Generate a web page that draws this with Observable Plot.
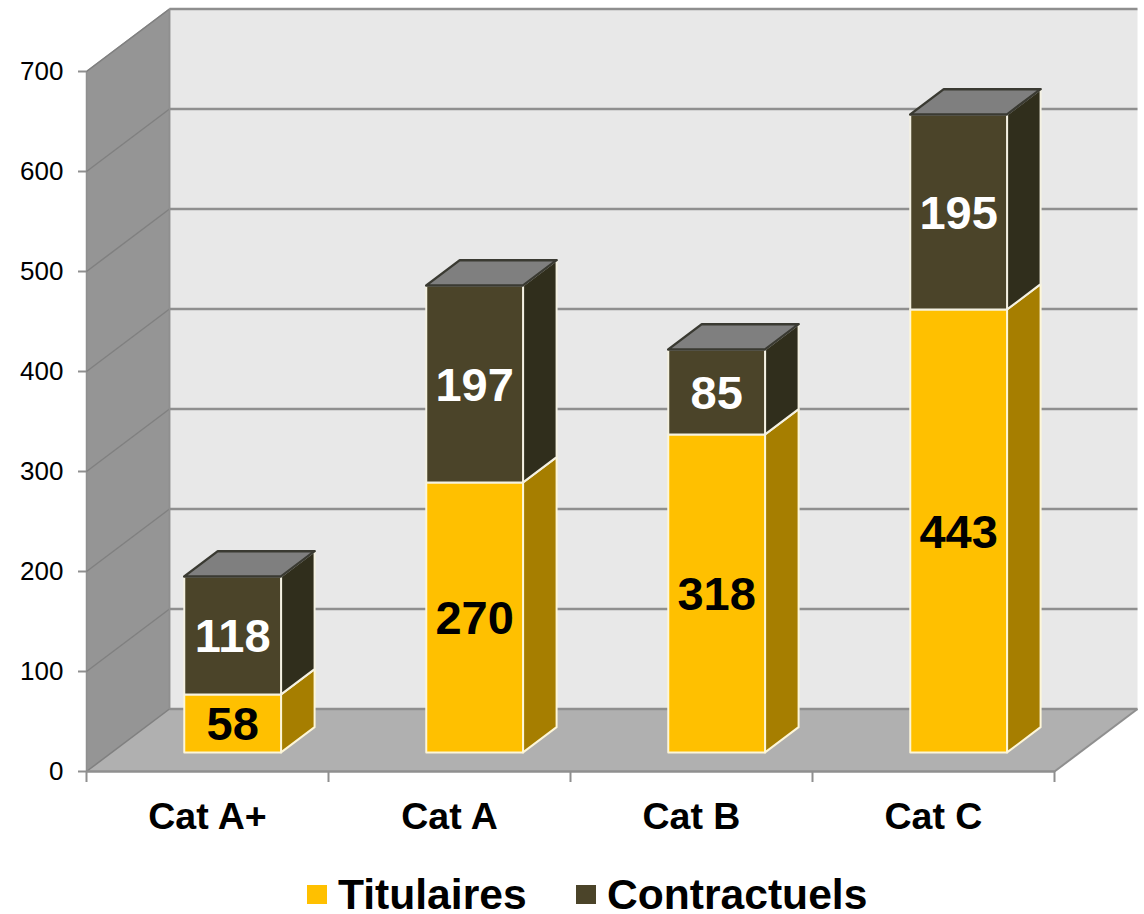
<!DOCTYPE html>
<html>
<head>
<meta charset="utf-8">
<script src="https://cdn.jsdelivr.net/npm/d3@7"></script>
<script src="https://cdn.jsdelivr.net/npm/@observablehq/plot@0.6"></script>
<style>
html,body{margin:0;padding:0;background:#fff;overflow:hidden}
#legend{height:54px;position:relative;font:bold 42.6px "Liberation Sans",Arial,sans-serif;color:#000}
#legend span{position:absolute;white-space:nowrap;line-height:40px}
#legend i{position:absolute;width:20px;height:19px;top:25px}
</style>
</head>
<body>
<div id="chart"></div>
<div id="legend"></div>
<script>
const categories = ["Cat A+", "Cat A", "Cat B", "Cat C"];
const titulaires = [58, 270, 318, 443];
const contractuels = [118, 197, 85, 195];
const yTicks = [0, 100, 200, 300, 400, 500, 600, 700];
const seriesNames = ["Titulaires", "Contractuels"];

// Oblique depth of the 3D box, in scale units (band index, value)
const depthX = 83 / 242, depthY = 62.5;
const barStart = 0.299, barWidth = 0.4, frontDepth = 0.306, backDepth = 0.71;
const P = (u, v, d) => ({x: u + d * depthX, y: v + d * depthY});

const colors = {
  wall: "#e8e8e8", leftWall: "#959595", floor: "#b0b0b0", grid: "#8f8f8f", leftGrid: "#808080",
  tit: "#ffc000", titSide: "#a67e00", con: "#4b4429", conSide: "#302e1c", topFace: "#7f7f7f"
};
const n = categories.length, yMax = yTicks[yTicks.length - 1];

const poly = (faces, options) => Plot.line(
  faces.flatMap((pts, id) => pts.map(p => ({...p, id}))),
  {x: "x", y: "y", z: "id", curve: "linear-closed", strokeLinejoin: "round", ...options}
);

// Stacked segments
const segs = categories.map((c, i) => {
  const u0 = i + barStart, u1 = u0 + barWidth;
  return {c, u0, u1, t: titulaires[i], s: titulaires[i] + contractuels[i]};
});
const frontFace = (a, b) => s => [P(s.u0, a(s), frontDepth), P(s.u1, a(s), frontDepth), P(s.u1, b(s), frontDepth), P(s.u0, b(s), frontDepth)];
const sideFace = (a, b) => s => [P(s.u1, a(s), frontDepth), P(s.u1, a(s), backDepth), P(s.u1, b(s), backDepth), P(s.u1, b(s), frontDepth)];
const capFace = s => [P(s.u0, s.s, frontDepth), P(s.u1, s.s, frontDepth), P(s.u1, s.s, backDepth), P(s.u0, s.s, backDepth)];
const zero = () => 0, tv = s => s.t, sv = s => s.s;

const labelDatum = (vals, base) => vals.map((v, i) => ({
  label: v,
  x: i + barStart + barWidth / 2 + frontDepth * depthX,
  y: base[i] + v / 2 + frontDepth * depthY
}));

const plotEl = Plot.plot({
  width: 1144, height: 860,
  marginLeft: 86, marginRight: 90, marginTop: 71, marginBottom: 89,
  style: {background: "#fff", fontFamily: '"Liberation Sans", Arial, sans-serif', overflow: "visible"},
  x: {type: "linear", domain: [0, n], range: [86, 1054], axis: null},
  y: {type: "linear", domain: [0, yMax], range: [771, 71], axis: null},
  marks: [
    // walls and floor
    poly([[P(0, 0, 1), P(n, 0, 1), P(n, yMax, 1), P(0, yMax, 1)]], {fill: colors.wall}),
    poly([[P(0, 0, 0), P(0, 0, 1), P(0, yMax, 1), P(0, yMax, 0)]], {fill: colors.leftWall, stroke: colors.grid, strokeWidth: 1.5}),
    poly([[P(0, 0, 0), P(n, 0, 0), P(n, 0, 1), P(0, 0, 1)]], {fill: colors.floor}),
    // gridlines on back wall and left wall
    Plot.link(yTicks, {x1: () => P(0, 0, 1).x, x2: () => P(n, 0, 1).x, y1: d => d + depthY, y2: d => d + depthY, stroke: colors.grid, strokeWidth: 2.5}),
    Plot.link(yTicks, {x1: () => 0, x2: () => P(0, 0, 1).x, y1: d => d, y2: d => d + depthY, stroke: colors.leftGrid, strokeWidth: 1.5}),
    // back wall left edge and floor front/right edges
    Plot.link([0], {x1: () => P(0, 0, 1).x, x2: () => P(0, 0, 1).x, y1: () => depthY, y2: () => yMax + depthY, stroke: colors.grid, strokeWidth: 1.5}),
    Plot.link([0], {x1: () => 0, x2: () => n, y1: () => 0, y2: () => 0, stroke: colors.grid, strokeWidth: 2.5}),
    Plot.link([0], {x1: () => n, x2: () => P(n, 0, 1).x, y1: () => 0, y2: () => depthY, stroke: colors.grid, strokeWidth: 2}),
    // axes
    Plot.axisY({ticks: yTicks, tickSize: 8, tickPadding: 15, tickFormat: d => d, fontSize: 26, label: null, stroke: colors.grid, strokeWidth: 2, color: "#000"}),
    Plot.axisX({ticks: d3.range(n + 1), tickSize: 11, tickFormat: () => "", label: null, stroke: colors.grid, strokeWidth: 2}),
    Plot.text(categories, {x: (d, i) => i + 0.5, y: () => 0, text: d => d, dy: 45, fontSize: 37.5, fontWeight: "bold", fill: "#000"}),
    // bars
    poly(segs.map(sideFace(zero, tv)), {fill: colors.titSide, stroke: "#fdf6d8", strokeWidth: 2}),
    poly(segs.map(sideFace(tv, sv)), {fill: colors.conSide, stroke: "#f4f1e2", strokeWidth: 2}),
    poly(segs.map(frontFace(zero, tv)), {fill: colors.tit, stroke: "#fdf6d8", strokeWidth: 2}),
    poly(segs.map(frontFace(tv, sv)), {fill: colors.con, stroke: "#f4f1e2", strokeWidth: 2}),
    poly(segs.map(capFace), {fill: colors.topFace, stroke: "#3a3a32", strokeWidth: 2.5}),
    // value labels
    Plot.text(labelDatum(titulaires, titulaires.map(() => 0)), {x: "x", y: "y", text: "label", dy: 2, fontSize: 47, fontWeight: "bold", fill: "#000"}),
    Plot.text(labelDatum(contractuels, titulaires), {x: "x", y: "y", text: "label", dy: 2, fontSize: 47, fontWeight: "bold", fill: "#fff"})
  ]
});
document.getElementById("chart").append(plotEl);
plotEl.style.display = "block";

// Legend below the SVG
const legendEl = document.getElementById("legend");
[[307, 338, colors.tit], [576, 607, colors.con]].forEach(([sx, tx, col], i) => {
  const sw = document.createElement("i");
  sw.style.left = sx + "px"; sw.style.background = col;
  const t = document.createElement("span");
  t.textContent = seriesNames[i];
  t.style.left = tx + "px"; t.style.top = "14px";
  legendEl.append(sw, t);
});
</script>
</body>
</html>
